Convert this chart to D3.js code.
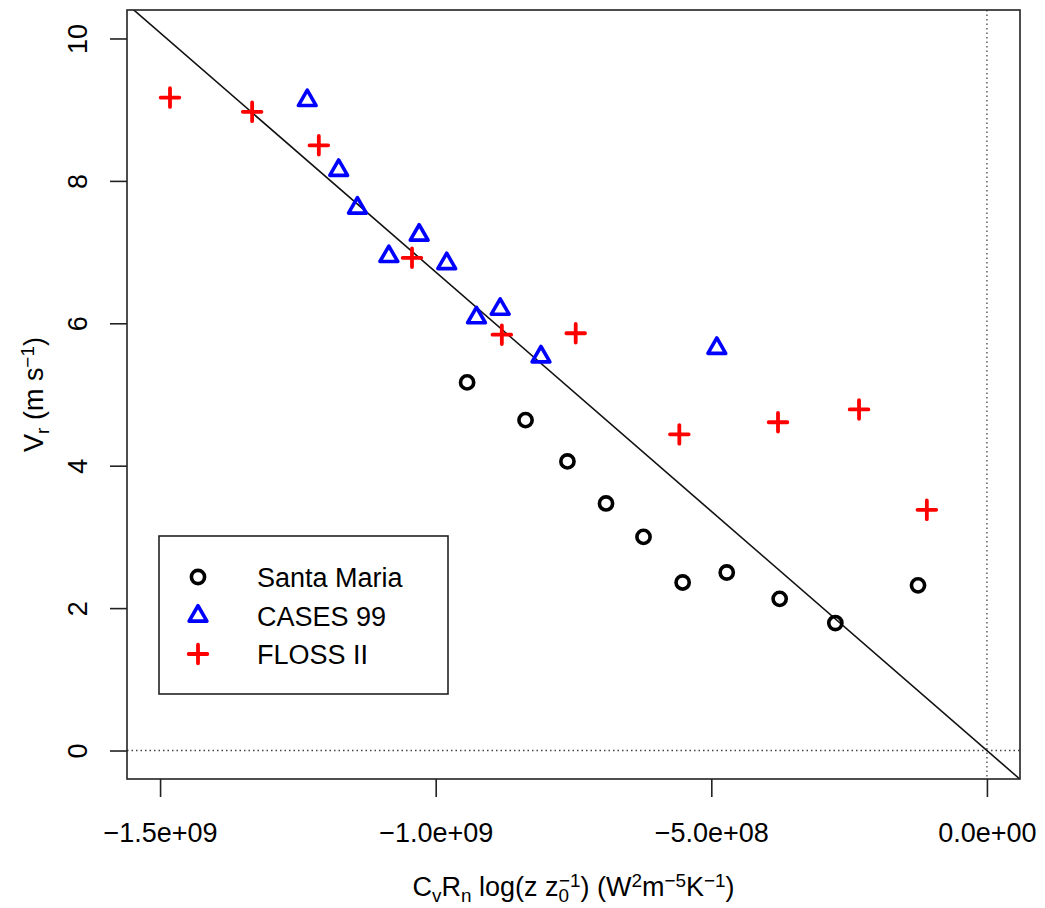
<!DOCTYPE html>
<html lang="en">
  <head>
    <meta charset="UTF-8" />
    <title>Vr vs CvRn log(z/z0)</title>
    <script src="https://d3js.org/d3.v7.min.js"></script>
    <style>
      body {
        margin: 0;
        padding: 0;
        background: #fff;
      }
      svg {
        display: block;
        font-family: "Liberation Sans", Arial, sans-serif;
      }
    </style>
  </head>
  <body>
    <svg width="1045" height="908"></svg>
    <script>
      // values
      const santaMariaX = [-0.943e9, -0.837e9, -0.761e9, -0.691e9, -0.623e9, -0.552e9, -0.472e9, -0.376e9, -0.275e9, -0.125e9];
      const santaMariaY = [5.17, 4.64, 4.06, 3.47, 3.0, 2.36, 2.5, 2.13, 1.79, 2.32];

      const casesX = [-1.233e9, -1.176e9, -1.142e9, -1.03e9, -1.085e9, -0.98e9, -0.883e9, -0.926e9, -0.809e9, -0.49e9];
      const casesY = [9.13, 8.15, 7.62, 7.24, 6.94, 6.84, 6.2, 6.08, 5.53, 5.65];

      const flossX = [-1.482e9, -1.333e9, -1.212e9, -1.043e9, -0.88e9, -0.746e9, -0.558e9, -0.379e9, -0.232e9, -0.109e9];
      const flossY = [9.17, 8.97, 8.5, 6.92, 5.84, 5.86, 4.44, 4.61, 4.79, 3.38];

      const xTicks = [-1.5e9, -1.0e9, -5.0e8, 0];
      const xTickLabels = ["\u22121.5e+09", "\u22121.0e+09", "\u22125.0e+08", "0.0e+00"];
      const yTicks = [0, 2, 4, 6, 8, 10];

      const fitSlope = -6.72e-9; // line through origin
      const seriesNames = ["Santa Maria", "CASES 99", "FLOSS II"];

      const xlim = [-1.5e9, 0];
      const ylim = [0, 10];
      const ext = (l) => [l[0] - 0.04 * (l[1] - l[0]), l[1] + 0.04 * (l[1] - l[0])];

      const plot = { left: 127, right: 1020, top: 10, bottom: 779 };
      const fontSize = 27;
      const s = 6.6; // symbol size

      const x = d3.scaleLinear().domain(ext(xlim)).range([plot.left, plot.right]);
      const y = d3.scaleLinear().domain(ext(ylim)).range([plot.bottom, plot.top]);

      const svg = d3.select("svg");

      const clip = svg
        .append("clipPath")
        .attr("id", "clip")
        .append("rect")
        .attr("x", plot.left)
        .attr("y", plot.top)
        .attr("width", plot.right - plot.left)
        .attr("height", plot.bottom - plot.top);

      const inner = svg.append("g").attr("clip-path", "url(#clip)");

      // dotted reference lines
      inner
        .append("line")
        .attr("x1", plot.left)
        .attr("x2", plot.right)
        .attr("y1", y(0))
        .attr("y2", y(0))
        .attr("stroke", "#444")
        .attr("stroke-width", 1.3)
        .attr("stroke-dasharray", "1.5,3");
      inner
        .append("line")
        .attr("x1", x(0))
        .attr("x2", x(0))
        .attr("y1", plot.top)
        .attr("y2", plot.bottom)
        .attr("stroke", "#444")
        .attr("stroke-width", 1.3)
        .attr("stroke-dasharray", "1.5,3");

      // fitted line
      const xd = x.domain();
      inner
        .append("line")
        .attr("x1", x(xd[0]))
        .attr("y1", y(fitSlope * xd[0]))
        .attr("x2", x(xd[1]))
        .attr("y2", y(fitSlope * xd[1]))
        .attr("stroke", "#111")
        .attr("stroke-width", 1.6);

      const trianglePath = (cx, cy) =>
        `M${cx},${cy - 1.5551 * s}L${cx + 1.3468 * s},${cy + 0.7776 * s}L${cx - 1.3468 * s},${cy + 0.7776 * s}Z`;
      const plusPath = (cx, cy) => {
        const a = 1.4142 * s;
        return `M${cx - a},${cy}H${cx + a}M${cx},${cy - a}V${cy + a}`;
      };

      function drawCircle(g, cx, cy) {
        g.append("circle").attr("cx", cx).attr("cy", cy).attr("r", s).attr("fill", "none").attr("stroke", "#000").attr("stroke-width", 3.6);
      }
      function drawTriangle(g, cx, cy) {
        g.append("path").attr("d", trianglePath(cx, cy)).attr("fill", "none").attr("stroke", "#0000ff").attr("stroke-width", 3.6).attr("stroke-linejoin", "round");
      }
      function drawPlus(g, cx, cy) {
        g.append("path").attr("d", plusPath(cx, cy)).attr("fill", "none").attr("stroke", "#ff0000").attr("stroke-width", 3.8).attr("stroke-linecap", "round");
      }

      const pts = svg.append("g");
      santaMariaX.forEach((v, i) => drawCircle(pts, x(v), y(santaMariaY[i])));
      casesX.forEach((v, i) => drawTriangle(pts, x(v), y(casesY[i])));
      flossX.forEach((v, i) => drawPlus(pts, x(v), y(flossY[i])));

      // box
      svg
        .append("rect")
        .attr("x", plot.left)
        .attr("y", plot.top)
        .attr("width", plot.right - plot.left)
        .attr("height", plot.bottom - plot.top)
        .attr("fill", "none")
        .attr("stroke", "#222")
        .attr("stroke-width", 1.6);

      // x axis
      const xAxis = d3
        .axisBottom(x)
        .tickValues(xTicks)
        .tickFormat((d, i) => xTickLabels[i])
        .tickSize(18)
        .tickPadding(26);
      const gx = svg.append("g").attr("transform", `translate(0,${plot.bottom})`).call(xAxis);
      gx.select(".domain").remove();
      gx.selectAll(".tick line").attr("stroke", "#222").attr("stroke-width", 1.6);
      gx.selectAll(".tick text").attr("font-size", fontSize).attr("font-family", "Liberation Sans, Arial, sans-serif").attr("fill", "#000");

      // y axis
      const yAxis = d3.axisLeft(y).tickValues(yTicks).tickSize(17).tickPadding(0).tickFormat(d3.format("d"));
      const gy = svg.append("g").attr("transform", `translate(${plot.left},0)`).call(yAxis);
      gy.select(".domain").remove();
      gy.selectAll(".tick line").attr("stroke", "#222").attr("stroke-width", 1.6);
      gy.selectAll(".tick text")
        .attr("font-size", fontSize)
        .attr("font-family", "Liberation Sans, Arial, sans-serif")
        .attr("fill", "#000")
        .attr("x", null)
        .attr("dy", null)
        .attr("text-anchor", "middle")
        .attr("transform", "translate(-40,0) rotate(-90)");

      // axis titles
      const xt = svg
        .append("text")
        .attr("x", (plot.left + plot.right) / 2)
        .attr("y", 896)
        .attr("text-anchor", "middle")
        .attr("font-size", fontSize);
      const sub = (el, t) => el.append("tspan").attr("font-size", fontSize * 0.7).attr("baseline-shift", "-30%").text(t);
      const sup = (el, t) => el.append("tspan").attr("font-size", fontSize * 0.7).attr("baseline-shift", "45%").text(t);
      const txt = (el, t) => el.append("tspan").text(t);
      txt(xt, "C");
      sub(xt, "v");
      txt(xt, "R");
      sub(xt, "n");
      txt(xt, " log(z z");
      sub(xt, "0");
      sup(xt, "\u22121").attr("dx", -10);
      txt(xt, ") (W");
      sup(xt, "2");
      txt(xt, "m");
      sup(xt, "\u22125");
      txt(xt, "K");
      sup(xt, "\u22121");
      txt(xt, ")");

      const yt = svg
        .append("text")
        .attr("transform", `translate(43,${(plot.top + plot.bottom) / 2}) rotate(-90)`)
        .attr("text-anchor", "middle")
        .attr("font-size", fontSize);
      txt(yt, "V");
      sub(yt, "r");
      txt(yt, " (m s");
      sup(yt, "\u22121");
      txt(yt, ")");

      // legend
      const lg = svg.append("g");
      lg.append("rect")
        .attr("x", 159)
        .attr("y", 536)
        .attr("width", 289)
        .attr("height", 158)
        .attr("fill", "#fff")
        .attr("stroke", "#222")
        .attr("stroke-width", 1.6);
      const rows = [577, 616, 654];
      const drawers = [drawCircle, drawTriangle, drawPlus];
      seriesNames.forEach((name, i) => {
        drawers[i](lg, 198, rows[i]);
        lg.append("text")
          .attr("x", 257)
          .attr("y", rows[i])
          .attr("dy", "0.36em")
          .attr("font-size", fontSize)
          .text(name);
      });
    </script>
  </body>
</html>
